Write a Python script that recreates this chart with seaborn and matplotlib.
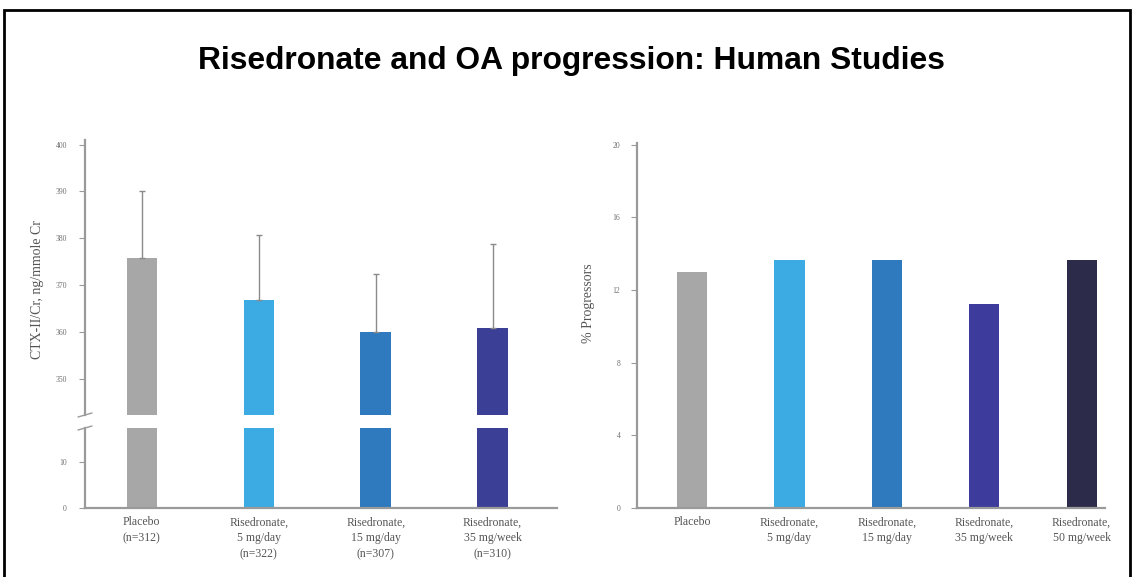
import matplotlib
matplotlib.use("Agg")
import matplotlib.pyplot as plt
import seaborn as sns
import pandas as pd
from matplotlib.patches import Rectangle

# ---- data ----
left_labels = ["Placebo\n(n=312)", "Risedronate,\n5 mg/day\n(n=322)",
               "Risedronate,\n15 mg/day\n(n=307)", "Risedronate,\n35 mg/week\n(n=310)"]
left_values = [375.8, 366.7, 359.9, 360.9]
left_err_up = [14.3, 13.9, 12.4, 17.9]
left_colors = ["#a7a7a7", "#3cabe3", "#2f79bf", "#3b4096"]
left_ticks_top = [350, 360, 370, 380, 390, 400]
left_ticks_bot = [0, 10]

right_labels = ["Placebo", "Risedronate,\n5 mg/day", "Risedronate,\n15 mg/day",
                "Risedronate,\n35 mg/week", "Risedronate,\n50 mg/week"]
right_values = [13.0, 13.66, 13.66, 11.24, 13.66]
right_colors = ["#a7a7a7", "#3cabe3", "#2f79bf", "#3d3b9b", "#2d2b4a"]
right_ticks = [0, 4, 8, 12, 16, 20]

sns.set_style("white")
plt.rcParams['font.family'] = ['Liberation Serif', 'DejaVu Serif']

W, H = 1133, 577
fig = plt.figure(figsize=(W / 100, H / 100), dpi=100)

def box(x0, y0, x1, y1):
    return [x0 / W, 1 - y1 / H, (x1 - x0) / W, (y1 - y0) / H]

spine_c = "#9a9a9a"
tick_c = "#6e6e6e"

ax_top = fig.add_axes(box(85, 140, 557, 415))
ax_bot = fig.add_axes(box(85, 428, 557, 508))
ax_r = fig.add_axes(box(637, 143, 1105, 508))

dfl = pd.DataFrame({"cat": left_labels, "val": left_values})
dfr = pd.DataFrame({"cat": right_labels, "val": right_values})

for ax in (ax_top, ax_bot):
    sns.barplot(data=dfl, x="cat", y="val", hue="cat", palette=left_colors,
                width=0.26, legend=False, ax=ax, saturation=1, edgecolor="none")

ax_top.errorbar(range(len(left_values)), left_values,
                yerr=[[0] * len(left_values), left_err_up],
                fmt="none", ecolor="#8a8a8a", elinewidth=1.0, capsize=2, capthick=1.0)

ax_top.set_ylim(342.2, 401)
ax_bot.set_ylim(0, 17.4)
for ax in (ax_top, ax_bot):
    ax.set_xlim(-0.485, 3.55)
ax_top.set_yticks(left_ticks_top)
ax_bot.set_yticks(left_ticks_bot)

sns.barplot(data=dfr, x="cat", y="val", hue="cat", palette=right_colors,
            width=0.31, legend=False, ax=ax_r, saturation=1, edgecolor="none")
ax_r.set_ylim(0, 20.1)
ax_r.set_xlim(-0.565, 4.24)
ax_r.set_yticks(right_ticks)

for ax in (ax_top, ax_bot, ax_r):
    for s in ("top", "right"):
        ax.spines[s].set_visible(False)
    for s in ("left", "bottom"):
        ax.spines[s].set_color(spine_c)
        ax.spines[s].set_linewidth(1.6)
    ax.tick_params(axis="y", direction="out", length=4, width=0.8, color=spine_c,
                   labelsize=5.5, labelcolor=tick_c, left=True)
    ax.tick_params(axis="x", length=0, labelsize=8.5, labelcolor="#555555", pad=6)
    ax.set_xlabel("")
    ax.set_ylabel("")
    for lab in ax.get_xticklabels():
        lab.set_linespacing(1.45)

ax_top.tick_params(axis="y", pad=9)
ax_bot.tick_params(axis="y", pad=9)
ax_r.tick_params(axis="y", pad=8)

ax_top.spines["bottom"].set_visible(False)
ax_top.tick_params(axis="x", labelbottom=False)

# break marks
def brk(ax, y, w_px, h_px):
    dx = 7 / w_px
    dy = 2 / h_px
    ax.plot([-dx, dx], [y - dy, y + dy], transform=ax.transAxes, color=spine_c,
            lw=1.0, clip_on=False)
brk(ax_top, 0, 472, 275)
brk(ax_bot, 1, 472, 80)

fig.text(38 / W, 1 - 290 / H, "CTX-II/Cr, ng/mmole Cr", rotation=90, ha="center",
         va="center", fontsize=10, color="#555555")
fig.text(588 / W, 1 - 303 / H, "% Progressors", rotation=90, ha="center",
         va="center", fontsize=10, color="#555555")

fig.text(571 / W, 1 - 61 / H, "Risedronate and OA progression: Human Studies",
         ha="center", va="center", fontsize=22.9, fontweight="bold",
         family=["Liberation Sans", "DejaVu Sans"], color="black")

fig.patches.append(Rectangle((4 / W, -0.05), 1126 / W, 1.05 - 10 / H,
                             transform=fig.transFigure, fill=False,
                             edgecolor="black", linewidth=2))

fig.savefig("out.png", dpi=100)
